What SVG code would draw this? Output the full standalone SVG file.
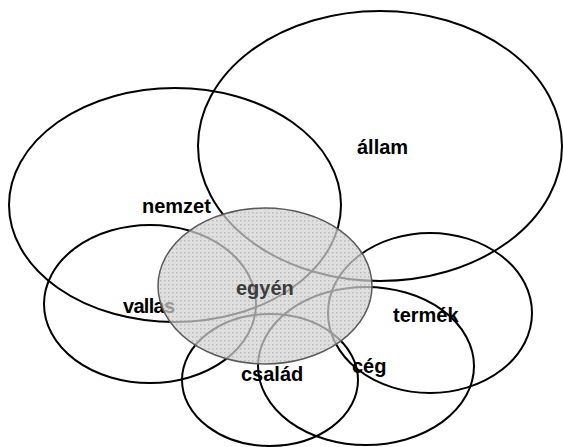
<svg xmlns="http://www.w3.org/2000/svg" width="563" height="447" viewBox="0 0 563 447">
<style>
.e{fill:none;stroke:#000;stroke-width:2}
.t{font-family:"Liberation Sans",Arial,sans-serif;font-size:20px;font-weight:bold;fill:#000}
</style>
<defs>
<pattern id="dots" width="4" height="4" patternUnits="userSpaceOnUse">
<rect x="0" y="0" width="1.5" height="1.5" fill="#9a9a9a"/>
</pattern>
</defs>
<rect width="563" height="447" fill="#fff"/>
<g id="connectors"></g>
<g id="allam"><ellipse class="e" cx="380" cy="146" rx="182" ry="135"/><text class="t" x="357" y="154">állam</text></g>
<g id="nemzet"><ellipse class="e" cx="175" cy="205" rx="166" ry="117"/><text class="t" x="142" y="213">nemzet</text></g>
<g id="vallas"><ellipse class="e" cx="150" cy="304" rx="106" ry="79"/><text class="t" x="123" y="313" textLength="52">vallas</text></g>
<g id="termek"><ellipse class="e" cx="430" cy="313" rx="102" ry="80"/><text class="t" x="393" y="322">termék</text></g>
<g id="ceg"><ellipse class="e" cx="366" cy="366" rx="108" ry="79"/><text class="t" x="352" y="373">cég</text></g>
<g id="csalad"><ellipse class="e" cx="270" cy="380" rx="88" ry="66"/><text class="t" x="241" y="381">család</text></g>
<g id="egyen">
<ellipse cx="265" cy="286" rx="107" ry="78" fill="#d2d2d2" fill-opacity="0.72"/>
<ellipse cx="265" cy="286" rx="107" ry="78" fill="url(#dots)" fill-opacity="0.5" stroke="#5a5a5a" stroke-width="1.5"/>
<text class="t" x="236" y="295" style="fill:#3c3c3c">egyén</text>
</g>
</svg>
